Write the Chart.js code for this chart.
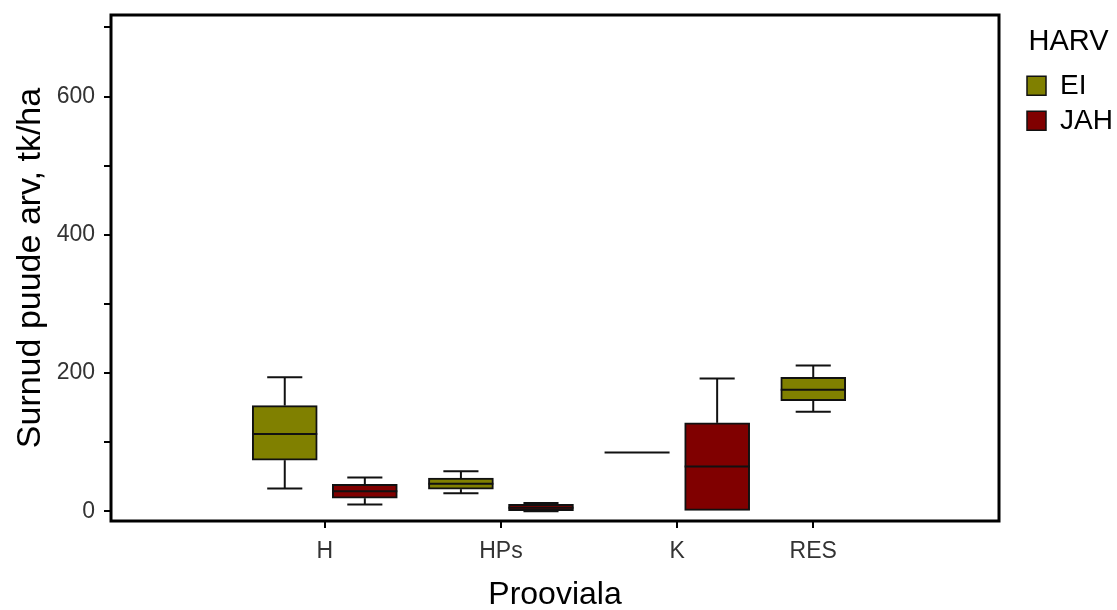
<!DOCTYPE html>
<html lang="et">
<head>
<meta charset="UTF-8" />
<title>Surnud puude arv</title>
<script src="https://cdn.jsdelivr.net/npm/chart.js"></script>
<style>
  html, body { margin: 0; padding: 0; background: #fff; }
  #wrap { width: 1117px; height: 610px; }
</style>
</head>
<body>
<div id="wrap"><canvas id="myChart" width="1117" height="610"></canvas></div>
<script>
// proovialad ja rühmad
const categories = ['H', 'HPs', 'K', 'RES'];
const seriesNames = ['EI', 'JAH'];
const seriesColors = ['#808000', '#800000'];

// kastdiagrammi statistikud (tk/ha), loetud jooniselt
const eiMin = [33, 26, 85, 144];
const eiQ1  = [74, 32, 85, 160];
const eiMed = [112, 40, 85, 176];
const eiQ3  = [153, 48, 85, 194];
const eiMax = [194, 58, 85, 211];

const jahMin = [10, 0, 0, null];
const jahQ1  = [19, 1, 0, null];
const jahMed = [29, 5, 65, null];
const jahQ3  = [39, 10, 128, null];
const jahMax = [49, 12, 192, null];

const yTicks = [0, 100, 200, 300, 400, 500, 600, 700];
const yTickLabels = ['0', '', '200', '', '400', '', '600', ''];

const stats = [
  { min: eiMin, q1: eiQ1, med: eiMed, q3: eiQ3, max: eiMax },
  { min: jahMin, q1: jahQ1, med: jahMed, q3: jahQ3, max: jahMax }
];

// kastide asukohad x-teljel: iga rühm oma pesa, gruppide vahel väike lisavahe
const groupGap = 0.2;
const slotPos = stats.map(() => []);
const groupCenter = [];
let p = 0;
categories.forEach((c, ci) => {
  const used = [];
  stats.forEach((st, si) => {
    if (st.med[ci] != null) {
      slotPos[si][ci] = p;
      used.push(p);
      p += 1;
    }
  });
  groupCenter[ci] = used.reduce((a, b) => a + b, 0) / used.length;
  p += groupGap;
});

const datasets = stats.map((st, si) => ({
  label: seriesNames[si],
  data: categories
    .map((c, ci) => st.med[ci] == null ? null : { x: slotPos[si][ci], y: [st.q1[ci], st.q3[ci]], c: ci })
    .filter(d => d),
  backgroundColor: seriesColors[si],
  borderColor: '#111',
  borderWidth: 2,
  borderSkipped: false,
  barThickness: 65,
  grouped: false
}));

const FONT = "'Liberation Sans', Arial, sans-serif";
Chart.defaults.font.family = FONT;

// vurrud, mediaanid ja raam
const boxPlotLines = {
  id: 'boxPlotLines',
  afterDatasetsDraw(chart) {
    const ctx = chart.ctx;
    const y = chart.scales.y;
    const line = (x1, y1, x2, y2) => {
      ctx.beginPath(); ctx.moveTo(x1, y1); ctx.lineTo(x2, y2); ctx.stroke();
    };
    ctx.save();
    ctx.strokeStyle = '#111';
    ctx.lineWidth = 2;
    chart.data.datasets.forEach((ds, di) => {
      const st = stats[di];
      chart.getDatasetMeta(di).data.forEach((bar, j) => {
        const ci = ds.data[j].c;
        const half = bar.width / 2;
        const cap = bar.width * 0.27;
        const x = bar.x;
        const yQ1 = y.getPixelForValue(st.q1[ci]);
        const yQ3 = y.getPixelForValue(st.q3[ci]);
        if (st.max[ci] > st.q3[ci]) {
          const yMax = y.getPixelForValue(st.max[ci]);
          line(x, yQ3, x, yMax);
          line(x - cap, yMax, x + cap, yMax);
        }
        if (st.min[ci] < st.q1[ci]) {
          const yMin = y.getPixelForValue(st.min[ci]);
          line(x, yQ1, x, yMin);
          line(x - cap, yMin, x + cap, yMin);
        }
        const yMed = y.getPixelForValue(st.med[ci]);
        line(x - half, yMed, x + half, yMed);
      });
    });
    const a = chart.chartArea;
    ctx.strokeStyle = '#000';
    ctx.lineWidth = 3;
    ctx.strokeRect(a.left, a.top, a.right - a.left, a.bottom - a.top);
    ctx.restore();
  }
};

// telgede sisemised ääred nulli, et joonisala ulatuks padding'u järgi
const noPad = s => { s.paddingTop = 0; s.paddingBottom = 0; s.paddingLeft = 0; s.paddingRight = 0; };

const ctx = document.getElementById('myChart').getContext('2d');
new Chart(ctx, {
  type: 'bar',
  data: { datasets },
  plugins: [boxPlotLines],
  options: {
    responsive: false,
    animation: false,
    layout: { padding: { top: 15, left: 0, right: 0, bottom: 0 } },
    scales: {
      x: {
        type: 'linear',
        min: -2.17,
        max: 8.92,
        offset: false,
        grid: { offset: false, drawOnChartArea: false, tickLength: 7, lineWidth: 2, color: '#000' },
        border: { display: false },
        afterBuildTicks: s => { s.ticks = groupCenter.map(v => ({ value: v })); },
        afterFit: s => { s.height = 89; noPad(s); },
        ticks: {
          autoSkip: false, maxRotation: 0, padding: 10,
          color: '#333', font: { size: 23 },
          callback: (v, i) => categories[i]
        },
        title: { display: true, text: 'Prooviala', color: '#000', font: { size: 32, lineHeight: 0.9 }, padding: 0 }
      },
      y: {
        min: -14,
        max: 718,
        grid: { drawOnChartArea: false, tickLength: 7, lineWidth: 2, color: '#000' },
        border: { display: false },
        afterBuildTicks: s => { s.ticks = yTicks.map(v => ({ value: v })); },
        afterFit: s => { s.width = 111; noPad(s); },
        ticks: {
          padding: 9, color: '#333', font: { size: 23 },
          callback: (v, i) => yTickLabels[i]
        },
        title: { display: true, text: 'Surnud puude arv, tk/ha', color: '#000', font: { size: 34 }, padding: { top: 10, bottom: 0 } }
      },
      gap: {
        type: 'linear',
        position: 'right',
        display: true,
        grid: { display: false },
        border: { display: false },
        ticks: { display: false },
        afterFit: s => {
          const lw = s.chart.legend ? s.chart.legend.width : 0;
          s.width = Math.max(0, s.chart.width - 999 - lw);
          noPad(s);
        }
      }
    },
    plugins: {
      tooltip: { enabled: false },
      legend: {
        position: 'right',
        align: 'start',
        maxWidth: 97,
        title: {
          display: true, text: 'HARV', position: 'center', color: '#000',
          font: { size: 29 }, padding: { top: 12, bottom: 3 }
        },
        labels: {
          boxWidth: 19, boxHeight: 19, padding: 7, color: '#000',
          font: { size: 28 },
          generateLabels: chart => Chart.defaults.plugins.legend.labels.generateLabels(chart)
            .map(l => Object.assign(l, { lineWidth: 1.5 }))
        }
      }
    }
  }
});
</script>
</body>
</html>
